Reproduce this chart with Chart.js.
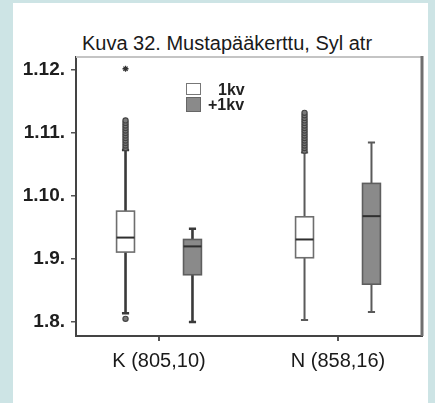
<!DOCTYPE html>
<html>
<head>
<meta charset="utf-8">
<script src="https://cdn.jsdelivr.net/npm/chart.js@4.4.1/dist/chart.umd.min.js"></script>
<style>
  html, body { margin: 0; padding: 0; }
  body { width: 435px; height: 403px; background: #cde4e5; position: relative; overflow: hidden;
         font-family: "Liberation Sans", Arial, sans-serif; }
  #panel { position: absolute; left: 13px; top: 3px; width: 415px; height: 400px; background: #fff; }
  #wrap { position: absolute; left: 0; top: 0; width: 435px; height: 403px; }
  #title { position: absolute; left: 0; width: 454px; top: 31px; text-align: center;
           font-size: 20px; line-height: 24px; color: #1a1a1a; white-space: nowrap; }
  .lg { position: absolute; font-weight: bold; font-size: 16px; color: #222; line-height: 16px; }
  .sw { position: absolute; box-sizing: border-box; border: 1.5px solid #777; }
</style>
</head>
<body>
<div id="panel"></div>
<div id="title">Kuva 32. Mustapääkerttu, Syl atr</div>
<div id="wrap"><canvas id="c" width="435" height="403"></canvas></div>
<!-- selite kuvan sisällä -->
<div class="sw" style="left:186px;top:83px;width:15px;height:12px;background:#fff"></div>
<div class="sw" style="left:186px;top:97px;width:15px;height:15px;background:#8a8a8a;border-color:#666"></div>
<div class="lg" style="left:218px;top:82px">1kv</div>
<div class="lg" style="left:208px;top:97px">+1kv</div>
<script>
// Kuva 32. Mustapääkerttu, Syl atr — laatikkokuviot ryhmittäin (1kv / +1kv)
const groups = ['K (805,10)', 'N (858,16)'];
const series = ['1kv', '+1kv'];
const tickValues = [1.08, 1.09, 1.10, 1.11, 1.12];
const tickLabels = ['1.8.', '1.9.', '1.10.', '1.11.', '1.12.'];

// 1kv: [K, N]
const lo1kv  = [1.0814, 1.0803];
const q1_1kv = [1.0911, 1.0902];
const med1kv = [1.0934, 1.0931];
const q3_1kv = [1.0976, 1.0967];
const hi1kv  = [1.1073, 1.1069];

// +1kv: [K, N]
const loPlus  = [1.0800, 1.0816];
const q1Plus  = [1.0875, 1.0860];
const medPlus = [1.0920, 1.0968];
const q3Plus  = [1.0931, 1.1020];
const hiPlus  = [1.0948, 1.1085];

// poikkeavat havainnot (vain 1kv)
const outK1kv = [1.1076, 1.1080, 1.1084, 1.1088, 1.1092, 1.1096, 1.1100, 1.1104, 1.1108, 1.1112, 1.1116, 1.1120, 1.0805];
const outN1kv = [1.1072, 1.1076, 1.1080, 1.1084, 1.1088, 1.1092, 1.1096, 1.1100, 1.1104, 1.1108, 1.1112, 1.1116, 1.1120, 1.1124, 1.1128, 1.1132];
const extremeK1kv = [1.1202];

const SHIFT = 0.187;   // sarjan siirtymä ryhmän keskeltä (x-yksiköissä)
const HALF = 0.05;     // laatikon puolileveys
const FONT = '"Liberation Sans", Arial, sans-serif';

const boxes = [];
groups.forEach((g, i) => {
  boxes.push({ x: i - SHIFT, lo: lo1kv[i], q1: q1_1kv[i], med: med1kv[i], q3: q3_1kv[i], hi: hi1kv[i],
               fill: '#ffffff', stroke: '#6e6e6e', whisker: i === 0 ? '#3a3a3a' : '#5a5a5a', ww: i === 0 ? 2.6 : 2 });
  boxes.push({ x: i + SHIFT, lo: loPlus[i], q1: q1Plus[i], med: medPlus[i], q3: q3Plus[i], hi: hiPlus[i],
               fill: '#8a8a8a', stroke: '#5e5e5e', whisker: i === 0 ? '#3a3a3a' : '#5a5a5a', ww: i === 0 ? 2.6 : 2 });
});

const boxPlugin = {
  id: 'boxes',
  beforeDatasetsDraw(chart) {
    const { ctx, scales: { x, y } } = chart;
    ctx.save();
    boxes.forEach(b => {
      const cx = x.getPixelForValue(b.x);
      const l = x.getPixelForValue(b.x - HALF), r = x.getPixelForValue(b.x + HALF);
      const capL = x.getPixelForValue(b.x - HALF * 0.4), capR = x.getPixelForValue(b.x + HALF * 0.4);
      const yq1 = y.getPixelForValue(b.q1), yq3 = y.getPixelForValue(b.q3);
      // viikset
      ctx.strokeStyle = b.whisker;
      ctx.lineWidth = b.ww;
      ctx.beginPath();
      ctx.moveTo(cx, y.getPixelForValue(b.hi)); ctx.lineTo(cx, yq3);
      ctx.moveTo(cx, yq1); ctx.lineTo(cx, y.getPixelForValue(b.lo));
      ctx.moveTo(capL, y.getPixelForValue(b.hi)); ctx.lineTo(capR, y.getPixelForValue(b.hi));
      ctx.moveTo(capL, y.getPixelForValue(b.lo)); ctx.lineTo(capR, y.getPixelForValue(b.lo));
      ctx.stroke();
      // laatikko
      ctx.fillStyle = b.fill;
      ctx.fillRect(l, yq3, r - l, yq1 - yq3);
      ctx.strokeStyle = b.stroke;
      ctx.lineWidth = 1.6;
      ctx.strokeRect(l, yq3, r - l, yq1 - yq3);
      // mediaani
      ctx.strokeStyle = '#2f2f2f';
      ctx.lineWidth = 2;
      ctx.beginPath();
      ctx.moveTo(l, y.getPixelForValue(b.med)); ctx.lineTo(r, y.getPixelForValue(b.med));
      ctx.stroke();
    });
    ctx.restore();
  },
  afterDraw(chart) {
    // kehys: ylä vaalea, oikea tumma
    const { ctx, chartArea: a } = chart;
    ctx.save();
    ctx.strokeStyle = '#c4c4c4';
    ctx.lineWidth = 2;
    ctx.beginPath(); ctx.moveTo(a.left, a.top); ctx.lineTo(a.right, a.top); ctx.stroke();
    ctx.strokeStyle = '#6f6f6f';
    ctx.lineWidth = 3;
    ctx.beginPath(); ctx.moveTo(a.right, a.top - 1); ctx.lineTo(a.right, a.bottom); ctx.stroke();
    ctx.restore();
  }
};

new Chart(document.getElementById('c'), {
  type: 'scatter',
  data: {
    datasets: [
      {
        label: 'K 1kv',
        data: outK1kv.map(v => ({ x: -SHIFT, y: v })),
        pointStyle: 'circle', pointRadius: 2.6, borderWidth: 1.2,
        borderColor: '#444', backgroundColor: '#7a7a7a'
      },
      {
        label: 'N 1kv',
        data: outN1kv.map(v => ({ x: 1 - SHIFT, y: v })),
        pointStyle: 'circle', pointRadius: 2.6, borderWidth: 1.2,
        borderColor: '#444', backgroundColor: '#7a7a7a'
      },
      {
        label: 'K 1kv ääri',
        data: extremeK1kv.map(v => ({ x: -SHIFT, y: v })),
        pointStyle: 'star', pointRadius: 3, borderWidth: 1.3,
        borderColor: '#333', backgroundColor: '#333'
      }
    ]
  },
  options: {
    responsive: false,
    animation: false,
    events: [],
    layout: { padding: { left: 0, right: 13, top: 57, bottom: 0 } },
    plugins: {
      legend: { display: false },
      tooltip: { enabled: false },
      title: { display: false }
    },
    scales: {
      x: {
        type: 'linear',
        min: -0.4637,
        max: 1.4693,
        afterBuildTicks: s => { s.ticks = groups.map((g, i) => ({ value: i })); },
        afterFit: s => { s.height = 67; },
        ticks: {
          callback: v => groups[v],
          color: '#1a1a1a',
          padding: 8,
          maxRotation: 0,
          font: { family: FONT, size: 20 }
        },
        grid: { drawOnChartArea: false, drawTicks: true, tickLength: 5, color: '#555', lineWidth: 2 },
        border: { display: true, color: '#444', width: 2 }
      },
      y: {
        min: 1.077778,
        max: 1.122063,
        afterBuildTicks: s => { s.ticks = tickValues.map(v => ({ value: v })); },
        afterFit: s => { s.width = 76; },
        ticks: {
          callback: (v, i) => tickLabels[i],
          color: '#1e1e1e',
          padding: 6,
          font: { family: FONT, size: 19, weight: 'bold' }
        },
        grid: { drawOnChartArea: false, drawTicks: true, tickLength: 5, color: '#555', lineWidth: 1.5 },
        border: { display: true, color: '#444', width: 2 }
      }
    }
  },
  plugins: [boxPlugin]
});
</script>
</body>
</html>
